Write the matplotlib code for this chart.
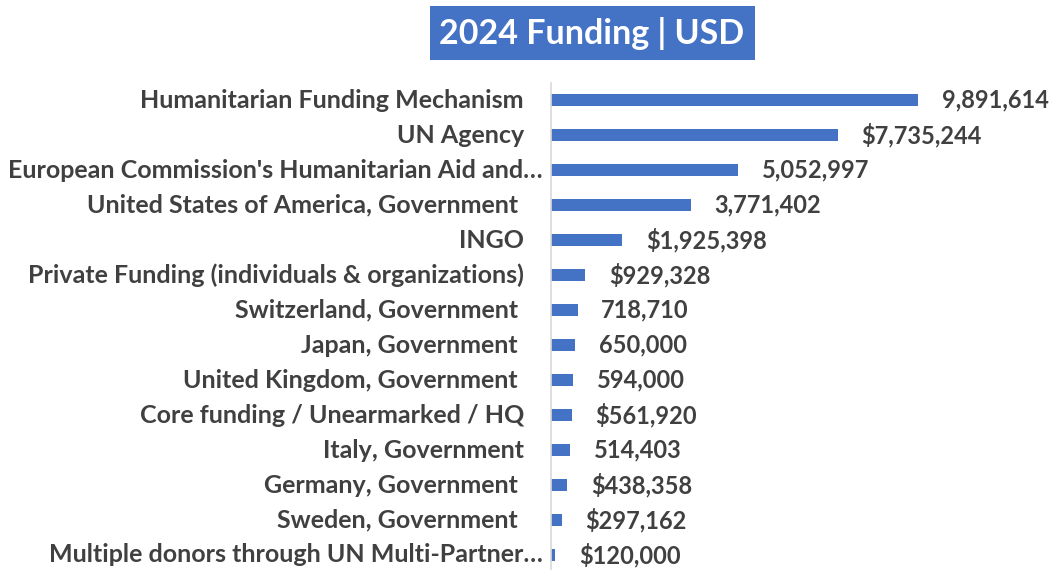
import matplotlib
matplotlib.use("Agg")
import matplotlib.pyplot as plt
from matplotlib.patches import Rectangle

# === data ===
donors = [
    "Humanitarian Funding Mechanism",
    "UN Agency",
    "European Commission's Humanitarian Aid and\u2026",
    "United States of America, Government ",
    "INGO",
    "Private Funding (individuals & organizations)",
    "Switzerland, Government ",
    "Japan, Government ",
    "United Kingdom, Government ",
    "Core funding / Unearmarked / HQ",
    "Italy, Government",
    "Germany, Government ",
    "Sweden, Government ",
    "Multiple donors through UN Multi-Partner\u2026",
]
amounts = [9891614, 7735244, 5052997, 3771402, 1925398, 929328, 718710,
           650000, 594000, 561920, 514403, 438358, 297162, 120000]
value_labels = ["9,891,614", "$7,735,244", "5,052,997", "3,771,402", "$1,925,398",
                "$929,328", "718,710", "650,000", "594,000", "$561,920",
                "514,403", "$438,358", "$297,162", "$120,000"]

BLUE = "#4472C4"
GREY_TXT = "#404040"
plt.rcParams["font.family"] = ["Lato", "DejaVu Sans"]

W, H = 1051, 570
fig = plt.figure(figsize=(W / 100, H / 100), dpi=100)
# axes placed in pixel terms
left, right, top, bottom = 551, 1040, 82.5, 570
ax = fig.add_axes([left / W, 1 - bottom / H, (right - left) / W, (bottom - top) / H])

ypos = list(range(len(donors)))
ax.barh(ypos, amounts, height=0.37, color=BLUE)
ax.set_xlim(0, 9891614 * (right - left) / 367)
ax.set_ylim(13.5 - 2.5 / 35, -0.5)

ax.set_yticks([])
ax.set_xticks([])
for s in ["top", "right", "bottom"]:
    ax.spines[s].set_visible(False)
ax.spines["left"].set_color("#d9d9d9")
ax.spines["left"].set_linewidth(1.2)

# category labels (truncated ones sit a little closer to the axis, like Excel)
for y, name in zip(ypos, donors):
    gap = 8 if name.endswith("\u2026") else 27
    ax.annotate(name, (0, y), xycoords=("axes fraction", "data"),
                xytext=(-gap, 0), textcoords="offset pixels",
                va="center", ha="right", fontsize=18, fontweight="bold",
                color=GREY_TXT, annotation_clip=False)

for y, v, lab in zip(ypos, amounts, value_labels):
    ax.annotate(lab, (v, y), xytext=(17, 0), textcoords="offset points",
                va="center", ha="left", fontsize=17, fontweight="bold", color=GREY_TXT)

# title box
fig.patches.append(Rectangle((430 / W, 1 - 60 / H), 325 / W, 54 / H,
                             transform=fig.transFigure, facecolor=BLUE,
                             edgecolor="none", zorder=0))
fig.text(592 / W, 1 - 34 / H, "2024 Funding | USD", ha="center", va="center",
         fontsize=24.5, fontweight="bold", color="white")

fig.savefig("out.png", dpi=100)
